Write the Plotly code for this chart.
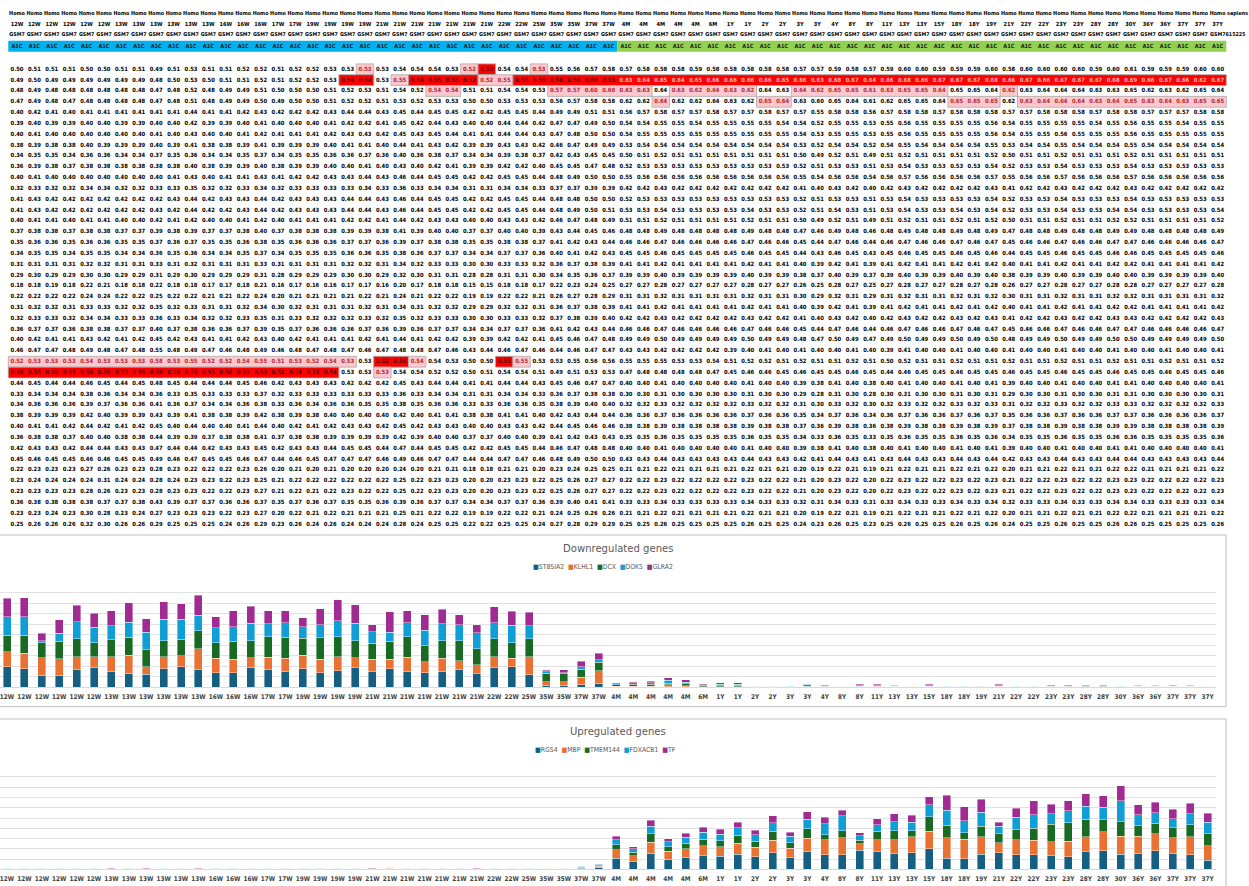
import plotly.graph_objects as go

FIG_W, FIG_H = 1249, 886
NARROW = "Liberation Sans Narrow, Arial Narrow, DejaVu Sans Condensed, Liberation Sans, Arial"

# ---------------- sample annotation ----------------
ages = ["12W", "12W", "12W", "12W", "12W", "12W", "13W", "13W", "13W", "13W",
        "13W", "13W", "16W", "16W", "16W", "17W", "17W", "19W", "19W", "19W",
        "19W", "21W", "21W", "21W", "21W", "21W", "21W", "21W", "22W", "22W",
        "25W", "35W", "35W", "37W", "37W", "4M", "4M", "4M", "4M", "4M",
        "6M", "1Y", "1Y", "2Y", "2Y", "3Y", "3Y", "4Y", "8Y", "8Y",
        "11Y", "13Y", "13Y", "15Y", "18Y", "18Y", "19Y", "21Y", "22Y", "22Y",
        "23Y", "23Y", "28Y", "28Y", "30Y", "36Y", "36Y", "37Y", "37Y", "37Y"]
n_prenatal = 35

# ---------------- expression table (rows = genes) ----------------
# columns 0-17 (12W-19W)
fetal_early = [
    "0.50 0.51 0.51 0.51 0.50 0.50 0.51 0.51 0.49 0.51 0.53 0.51 0.51 0.52 0.52 0.51 0.52 0.52",
    "0.49 0.50 0.49 0.49 0.49 0.49 0.49 0.49 0.48 0.50 0.53 0.50 0.51 0.51 0.52 0.51 0.52 0.52",
    "0.48 0.49 0.48 0.48 0.48 0.48 0.48 0.48 0.47 0.48 0.52 0.48 0.49 0.49 0.51 0.50 0.50 0.50",
    "0.47 0.49 0.48 0.47 0.48 0.48 0.48 0.48 0.47 0.48 0.51 0.48 0.49 0.49 0.50 0.49 0.50 0.50",
    "0.40 0.42 0.41 0.40 0.41 0.41 0.41 0.41 0.41 0.41 0.44 0.41 0.41 0.42 0.43 0.42 0.42 0.42",
    "0.39 0.40 0.39 0.39 0.40 0.40 0.39 0.39 0.40 0.40 0.42 0.39 0.39 0.40 0.41 0.40 0.40 0.40",
    "0.40 0.41 0.40 0.40 0.40 0.40 0.40 0.40 0.41 0.40 0.43 0.40 0.40 0.41 0.42 0.41 0.41 0.41",
    "0.38 0.39 0.38 0.38 0.40 0.39 0.39 0.39 0.40 0.39 0.41 0.38 0.38 0.39 0.41 0.39 0.39 0.39",
    "0.34 0.35 0.35 0.34 0.36 0.36 0.34 0.34 0.37 0.35 0.36 0.34 0.34 0.35 0.37 0.34 0.35 0.35",
    "0.36 0.39 0.38 0.37 0.38 0.38 0.38 0.38 0.38 0.38 0.40 0.38 0.39 0.39 0.40 0.38 0.39 0.39",
    "0.40 0.41 0.40 0.40 0.40 0.40 0.40 0.40 0.40 0.41 0.43 0.40 0.41 0.41 0.43 0.41 0.42 0.42",
    "0.32 0.33 0.32 0.32 0.34 0.34 0.32 0.32 0.33 0.33 0.35 0.32 0.32 0.33 0.34 0.32 0.33 0.33",
    "0.41 0.43 0.42 0.42 0.42 0.42 0.42 0.42 0.42 0.43 0.44 0.42 0.43 0.43 0.44 0.42 0.43 0.43",
    "0.41 0.43 0.42 0.42 0.42 0.42 0.42 0.42 0.43 0.42 0.44 0.42 0.42 0.43 0.44 0.42 0.43 0.43",
    "0.40 0.41 0.41 0.40 0.41 0.41 0.40 0.40 0.42 0.41 0.42 0.40 0.40 0.41 0.42 0.40 0.41 0.41",
    "0.37 0.38 0.38 0.37 0.38 0.38 0.37 0.37 0.39 0.38 0.39 0.37 0.37 0.38 0.40 0.37 0.38 0.38",
    "0.35 0.36 0.36 0.35 0.36 0.36 0.35 0.35 0.37 0.36 0.37 0.35 0.35 0.36 0.38 0.35 0.36 0.36",
    "0.34 0.35 0.35 0.34 0.35 0.35 0.34 0.34 0.36 0.35 0.36 0.34 0.34 0.35 0.37 0.34 0.35 0.35",
    "0.31 0.31 0.31 0.31 0.32 0.32 0.31 0.31 0.33 0.31 0.32 0.31 0.31 0.31 0.33 0.31 0.31 0.31",
    "0.29 0.30 0.29 0.29 0.30 0.30 0.29 0.29 0.31 0.29 0.30 0.29 0.29 0.29 0.31 0.28 0.29 0.29",
    "0.18 0.18 0.19 0.18 0.22 0.21 0.18 0.18 0.22 0.18 0.18 0.17 0.17 0.18 0.21 0.16 0.17 0.16",
    "0.22 0.22 0.22 0.22 0.24 0.24 0.22 0.22 0.25 0.22 0.22 0.21 0.21 0.22 0.24 0.20 0.21 0.21",
    "0.31 0.32 0.32 0.31 0.33 0.33 0.32 0.32 0.35 0.32 0.33 0.31 0.31 0.32 0.34 0.30 0.32 0.31",
    "0.32 0.33 0.33 0.32 0.34 0.34 0.33 0.33 0.36 0.33 0.34 0.32 0.32 0.33 0.35 0.31 0.33 0.32",
    "0.36 0.37 0.37 0.36 0.38 0.38 0.37 0.37 0.40 0.37 0.38 0.36 0.36 0.37 0.39 0.35 0.37 0.36",
    "0.40 0.42 0.41 0.41 0.43 0.42 0.41 0.42 0.45 0.42 0.43 0.41 0.41 0.42 0.43 0.40 0.42 0.41",
    "0.46 0.47 0.47 0.48 0.49 0.48 0.47 0.48 0.55 0.48 0.49 0.47 0.46 0.48 0.49 0.46 0.48 0.47",
    "0.52 0.53 0.53 0.53 0.54 0.53 0.53 0.53 0.58 0.53 0.55 0.52 0.52 0.54 0.55 0.51 0.53 0.52",
    "0.54 0.55 0.55 0.55 0.56 0.55 0.55 0.55 0.59 0.56 0.55 0.55 0.54 0.55 0.55 0.52 0.54 0.53",
    "0.44 0.45 0.44 0.44 0.46 0.45 0.44 0.45 0.48 0.45 0.44 0.44 0.44 0.45 0.46 0.42 0.43 0.43",
    "0.33 0.34 0.34 0.34 0.38 0.36 0.34 0.34 0.36 0.33 0.35 0.33 0.33 0.33 0.37 0.32 0.33 0.33",
    "0.34 0.36 0.36 0.36 0.39 0.37 0.36 0.36 0.41 0.36 0.37 0.34 0.34 0.36 0.38 0.33 0.36 0.34",
    "0.38 0.39 0.39 0.39 0.42 0.40 0.39 0.39 0.43 0.39 0.41 0.38 0.38 0.39 0.42 0.38 0.39 0.38",
    "0.40 0.41 0.41 0.42 0.44 0.42 0.41 0.42 0.45 0.40 0.44 0.40 0.40 0.41 0.44 0.40 0.42 0.41",
    "0.36 0.38 0.38 0.37 0.40 0.40 0.38 0.38 0.44 0.39 0.39 0.37 0.38 0.38 0.41 0.37 0.38 0.38",
    "0.42 0.43 0.43 0.42 0.44 0.44 0.43 0.43 0.47 0.44 0.44 0.42 0.43 0.43 0.45 0.42 0.43 0.43",
    "0.45 0.46 0.45 0.45 0.46 0.46 0.45 0.45 0.49 0.46 0.47 0.45 0.45 0.46 0.47 0.44 0.46 0.45",
    "0.22 0.23 0.23 0.23 0.27 0.26 0.23 0.23 0.28 0.23 0.22 0.22 0.22 0.23 0.26 0.20 0.21 0.20",
    "0.23 0.24 0.24 0.24 0.24 0.31 0.24 0.24 0.28 0.24 0.23 0.23 0.22 0.23 0.25 0.21 0.22 0.22",
    "0.23 0.23 0.23 0.23 0.28 0.26 0.23 0.23 0.28 0.23 0.23 0.22 0.22 0.23 0.27 0.21 0.22 0.21",
    "0.36 0.38 0.38 0.38 0.38 0.37 0.37 0.38 0.43 0.39 0.37 0.37 0.36 0.36 0.37 0.35 0.37 0.36",
    "0.23 0.23 0.24 0.23 0.30 0.28 0.23 0.24 0.27 0.23 0.23 0.23 0.22 0.23 0.27 0.20 0.22 0.21",
    "0.25 0.26 0.26 0.26 0.32 0.30 0.26 0.26 0.29 0.25 0.25 0.25 0.24 0.26 0.29 0.23 0.26 0.24",
]

# columns 18-34 (19W-37W)
fetal_late = [
    "0.53 0.53 0.53 0.53 0.54 0.54 0.54 0.53 0.52 0.53 0.54 0.54 0.53 0.55 0.56 0.57 0.58",
    "0.53 0.54 0.54 0.53 0.55 0.54 0.55 0.55 0.52 0.52 0.55 0.55 0.55 0.56 0.56 0.60 0.55",
    "0.51 0.52 0.53 0.51 0.54 0.52 0.54 0.54 0.51 0.51 0.54 0.54 0.53 0.57 0.57 0.60 0.60",
    "0.51 0.52 0.52 0.51 0.53 0.52 0.53 0.53 0.50 0.50 0.53 0.53 0.53 0.56 0.57 0.58 0.58",
    "0.43 0.44 0.44 0.43 0.45 0.44 0.45 0.45 0.42 0.42 0.45 0.45 0.44 0.49 0.49 0.51 0.51",
    "0.41 0.42 0.42 0.41 0.45 0.42 0.44 0.43 0.40 0.40 0.44 0.44 0.42 0.47 0.47 0.49 0.50",
    "0.42 0.43 0.43 0.42 0.45 0.43 0.45 0.44 0.41 0.41 0.44 0.44 0.43 0.47 0.48 0.50 0.50",
    "0.40 0.41 0.41 0.40 0.44 0.41 0.43 0.42 0.39 0.39 0.43 0.43 0.42 0.46 0.47 0.49 0.49",
    "0.36 0.36 0.37 0.36 0.40 0.36 0.38 0.37 0.34 0.34 0.39 0.38 0.37 0.42 0.43 0.45 0.45",
    "0.40 0.40 0.41 0.40 0.43 0.40 0.42 0.41 0.39 0.39 0.42 0.42 0.40 0.45 0.45 0.47 0.48",
    "0.43 0.43 0.44 0.43 0.46 0.44 0.45 0.45 0.42 0.42 0.45 0.45 0.44 0.48 0.49 0.50 0.50",
    "0.33 0.33 0.34 0.33 0.36 0.33 0.34 0.34 0.31 0.31 0.34 0.34 0.33 0.37 0.37 0.39 0.39",
    "0.43 0.44 0.44 0.43 0.46 0.44 0.45 0.45 0.42 0.42 0.45 0.45 0.44 0.48 0.48 0.50 0.50",
    "0.43 0.44 0.44 0.43 0.46 0.44 0.45 0.45 0.42 0.42 0.45 0.45 0.44 0.48 0.49 0.50 0.51",
    "0.41 0.42 0.42 0.41 0.44 0.42 0.43 0.43 0.40 0.40 0.43 0.43 0.42 0.46 0.47 0.48 0.49",
    "0.38 0.39 0.39 0.38 0.41 0.39 0.40 0.40 0.37 0.37 0.40 0.40 0.39 0.43 0.44 0.45 0.46",
    "0.36 0.37 0.37 0.36 0.39 0.37 0.38 0.38 0.35 0.35 0.38 0.38 0.37 0.41 0.42 0.43 0.44",
    "0.35 0.36 0.36 0.35 0.38 0.36 0.37 0.37 0.34 0.34 0.37 0.37 0.36 0.40 0.41 0.42 0.43",
    "0.31 0.32 0.32 0.31 0.34 0.32 0.33 0.33 0.30 0.30 0.33 0.33 0.32 0.36 0.37 0.38 0.39",
    "0.29 0.30 0.30 0.29 0.32 0.30 0.31 0.31 0.28 0.28 0.31 0.31 0.30 0.34 0.35 0.36 0.37",
    "0.16 0.17 0.17 0.16 0.20 0.17 0.18 0.18 0.15 0.15 0.18 0.18 0.17 0.22 0.23 0.24 0.25",
    "0.21 0.21 0.22 0.21 0.24 0.21 0.22 0.22 0.19 0.19 0.22 0.22 0.21 0.26 0.27 0.28 0.29",
    "0.31 0.31 0.32 0.31 0.34 0.31 0.32 0.32 0.29 0.29 0.32 0.32 0.31 0.36 0.37 0.38 0.39",
    "0.32 0.32 0.33 0.32 0.35 0.32 0.33 0.33 0.30 0.30 0.33 0.33 0.32 0.37 0.38 0.39 0.40",
    "0.36 0.36 0.37 0.36 0.39 0.36 0.37 0.37 0.34 0.34 0.37 0.37 0.36 0.41 0.42 0.43 0.44",
    "0.41 0.41 0.42 0.41 0.44 0.41 0.42 0.42 0.39 0.39 0.42 0.42 0.41 0.45 0.46 0.47 0.48",
    "0.48 0.47 0.46 0.47 0.48 0.48 0.47 0.46 0.43 0.44 0.46 0.47 0.46 0.44 0.46 0.47 0.47",
    "0.54 0.53 0.53 0.52 0.55 0.54 0.54 0.53 0.50 0.50 0.55 0.55 0.53 0.53 0.55 0.56 0.56",
    "0.54 0.53 0.53 0.53 0.54 0.54 0.52 0.52 0.50 0.51 0.54 0.54 0.51 0.49 0.51 0.53 0.53",
    "0.43 0.42 0.42 0.42 0.45 0.43 0.44 0.44 0.41 0.41 0.44 0.44 0.43 0.45 0.46 0.47 0.47",
    "0.33 0.33 0.33 0.33 0.36 0.33 0.34 0.34 0.31 0.31 0.34 0.34 0.33 0.36 0.37 0.38 0.38",
    "0.36 0.36 0.35 0.35 0.38 0.35 0.36 0.36 0.33 0.33 0.36 0.36 0.35 0.38 0.39 0.40 0.40",
    "0.40 0.40 0.40 0.40 0.42 0.40 0.41 0.41 0.38 0.38 0.41 0.41 0.40 0.42 0.43 0.44 0.44",
    "0.42 0.43 0.43 0.42 0.45 0.42 0.43 0.43 0.40 0.40 0.43 0.43 0.42 0.44 0.45 0.46 0.46",
    "0.39 0.39 0.39 0.39 0.42 0.39 0.40 0.40 0.37 0.37 0.40 0.40 0.39 0.41 0.42 0.43 0.43",
    "0.44 0.45 0.45 0.44 0.47 0.44 0.45 0.45 0.42 0.42 0.45 0.45 0.44 0.46 0.47 0.48 0.48",
    "0.47 0.47 0.47 0.46 0.49 0.46 0.47 0.47 0.44 0.44 0.47 0.47 0.46 0.48 0.49 0.50 0.50",
    "0.21 0.20 0.20 0.20 0.24 0.20 0.21 0.21 0.18 0.18 0.21 0.21 0.20 0.23 0.24 0.25 0.25",
    "0.22 0.22 0.22 0.22 0.25 0.22 0.23 0.23 0.20 0.20 0.23 0.23 0.22 0.25 0.26 0.27 0.27",
    "0.22 0.23 0.22 0.22 0.25 0.22 0.23 0.23 0.20 0.20 0.23 0.23 0.22 0.25 0.26 0.27 0.27",
    "0.37 0.35 0.35 0.36 0.39 0.36 0.37 0.37 0.34 0.34 0.37 0.37 0.36 0.39 0.40 0.41 0.41",
    "0.22 0.21 0.21 0.21 0.25 0.21 0.22 0.22 0.19 0.19 0.22 0.22 0.21 0.24 0.25 0.26 0.26",
    "0.26 0.24 0.24 0.24 0.28 0.24 0.25 0.25 0.22 0.22 0.25 0.25 0.24 0.27 0.28 0.29 0.29",
]

# columns 35-69 (4M-37Y)
postnatal = [
    "0.57 0.58 0.58 0.58 0.59 0.58 0.58 0.58 0.58 0.58 0.57 0.57 0.59 0.58 0.57 0.59 0.60 0.60 0.59 0.59 0.59 0.60 0.58 0.60 0.60 0.60 0.60 0.59 0.60 0.61 0.59 0.59 0.59 0.60 0.60",
    "0.63 0.64 0.65 0.64 0.65 0.66 0.66 0.66 0.66 0.65 0.66 0.63 0.68 0.67 0.64 0.66 0.68 0.66 0.67 0.67 0.67 0.68 0.66 0.67 0.66 0.67 0.67 0.67 0.68 0.69 0.66 0.67 0.66 0.62 0.67",
    "0.63 0.63 0.64 0.63 0.62 0.64 0.63 0.62 0.64 0.63 0.64 0.62 0.65 0.65 0.61 0.63 0.65 0.65 0.64 0.65 0.65 0.64 0.62 0.63 0.64 0.64 0.64 0.63 0.63 0.65 0.62 0.63 0.62 0.65 0.64",
    "0.62 0.62 0.64 0.62 0.62 0.64 0.63 0.62 0.65 0.64 0.63 0.60 0.65 0.64 0.61 0.62 0.65 0.65 0.64 0.65 0.65 0.65 0.62 0.63 0.64 0.64 0.64 0.63 0.64 0.65 0.63 0.64 0.63 0.65 0.65",
    "0.56 0.57 0.58 0.57 0.57 0.58 0.57 0.57 0.58 0.57 0.57 0.55 0.58 0.58 0.56 0.57 0.58 0.58 0.57 0.58 0.58 0.58 0.57 0.57 0.58 0.58 0.58 0.57 0.58 0.58 0.57 0.57 0.57 0.58 0.58",
    "0.54 0.54 0.55 0.55 0.54 0.55 0.55 0.55 0.55 0.54 0.54 0.52 0.55 0.55 0.53 0.55 0.56 0.55 0.55 0.55 0.55 0.56 0.54 0.55 0.55 0.55 0.55 0.54 0.55 0.56 0.55 0.55 0.54 0.55 0.55",
    "0.54 0.55 0.55 0.55 0.55 0.55 0.55 0.55 0.55 0.55 0.54 0.53 0.55 0.55 0.53 0.55 0.56 0.55 0.55 0.55 0.55 0.56 0.54 0.55 0.55 0.56 0.55 0.55 0.55 0.56 0.55 0.55 0.55 0.55 0.55",
    "0.53 0.54 0.54 0.54 0.54 0.54 0.54 0.54 0.54 0.54 0.53 0.52 0.54 0.54 0.52 0.54 0.55 0.54 0.54 0.54 0.54 0.55 0.53 0.54 0.54 0.55 0.54 0.54 0.54 0.55 0.54 0.54 0.54 0.54 0.54",
    "0.50 0.51 0.52 0.51 0.51 0.51 0.51 0.51 0.51 0.51 0.50 0.49 0.52 0.51 0.49 0.51 0.52 0.51 0.51 0.51 0.51 0.52 0.50 0.51 0.51 0.52 0.51 0.51 0.51 0.52 0.51 0.51 0.51 0.51 0.51",
    "0.52 0.53 0.53 0.53 0.53 0.53 0.53 0.53 0.53 0.53 0.52 0.51 0.53 0.53 0.51 0.53 0.54 0.53 0.53 0.53 0.53 0.54 0.52 0.53 0.53 0.54 0.53 0.53 0.53 0.54 0.53 0.53 0.53 0.53 0.53",
    "0.55 0.56 0.56 0.56 0.56 0.56 0.56 0.56 0.56 0.56 0.55 0.54 0.56 0.56 0.54 0.56 0.57 0.56 0.56 0.56 0.56 0.57 0.55 0.56 0.56 0.57 0.56 0.56 0.56 0.57 0.56 0.56 0.56 0.56 0.56",
    "0.42 0.42 0.43 0.42 0.42 0.42 0.42 0.42 0.42 0.42 0.41 0.40 0.43 0.42 0.40 0.42 0.43 0.42 0.42 0.42 0.42 0.43 0.41 0.42 0.42 0.43 0.42 0.42 0.42 0.43 0.42 0.42 0.42 0.42 0.42",
    "0.52 0.53 0.53 0.53 0.53 0.53 0.53 0.53 0.53 0.53 0.52 0.51 0.53 0.53 0.51 0.53 0.54 0.53 0.53 0.53 0.53 0.54 0.52 0.53 0.53 0.54 0.53 0.53 0.53 0.54 0.53 0.53 0.53 0.53 0.53",
    "0.53 0.53 0.54 0.53 0.53 0.53 0.53 0.54 0.53 0.53 0.52 0.51 0.54 0.53 0.51 0.53 0.54 0.53 0.53 0.54 0.53 0.54 0.52 0.53 0.53 0.54 0.53 0.53 0.54 0.54 0.53 0.53 0.53 0.53 0.54",
    "0.51 0.51 0.52 0.51 0.51 0.51 0.51 0.52 0.51 0.51 0.50 0.49 0.52 0.51 0.49 0.51 0.52 0.51 0.51 0.52 0.51 0.52 0.50 0.51 0.51 0.52 0.51 0.51 0.52 0.52 0.51 0.51 0.51 0.51 0.52",
    "0.48 0.48 0.49 0.48 0.48 0.48 0.48 0.49 0.48 0.48 0.47 0.46 0.49 0.48 0.46 0.48 0.49 0.48 0.48 0.49 0.48 0.49 0.47 0.48 0.48 0.49 0.48 0.48 0.49 0.49 0.48 0.48 0.48 0.48 0.49",
    "0.46 0.46 0.47 0.46 0.46 0.46 0.46 0.47 0.46 0.46 0.45 0.44 0.47 0.46 0.44 0.46 0.47 0.46 0.46 0.47 0.46 0.47 0.45 0.46 0.46 0.47 0.46 0.46 0.47 0.47 0.46 0.46 0.46 0.46 0.47",
    "0.45 0.45 0.46 0.45 0.45 0.45 0.45 0.46 0.45 0.45 0.44 0.43 0.46 0.45 0.43 0.45 0.46 0.45 0.45 0.46 0.45 0.46 0.44 0.45 0.45 0.46 0.45 0.45 0.46 0.46 0.45 0.45 0.45 0.45 0.46",
    "0.41 0.41 0.42 0.41 0.41 0.41 0.41 0.42 0.41 0.41 0.40 0.39 0.42 0.41 0.39 0.41 0.42 0.41 0.41 0.42 0.41 0.42 0.40 0.41 0.41 0.42 0.41 0.41 0.42 0.42 0.41 0.41 0.41 0.41 0.42",
    "0.39 0.39 0.40 0.39 0.39 0.39 0.39 0.40 0.39 0.39 0.38 0.37 0.40 0.39 0.37 0.39 0.40 0.39 0.39 0.40 0.39 0.40 0.38 0.39 0.39 0.40 0.39 0.39 0.40 0.40 0.39 0.39 0.39 0.39 0.40",
    "0.27 0.27 0.28 0.27 0.27 0.27 0.27 0.28 0.27 0.27 0.26 0.25 0.28 0.27 0.25 0.27 0.28 0.27 0.27 0.28 0.27 0.28 0.26 0.27 0.27 0.28 0.27 0.27 0.28 0.28 0.27 0.27 0.27 0.27 0.28",
    "0.31 0.31 0.32 0.31 0.31 0.31 0.31 0.32 0.31 0.31 0.30 0.29 0.32 0.31 0.29 0.31 0.32 0.31 0.31 0.32 0.31 0.32 0.30 0.31 0.31 0.32 0.31 0.31 0.32 0.32 0.31 0.31 0.31 0.31 0.32",
    "0.41 0.41 0.42 0.41 0.41 0.41 0.41 0.42 0.41 0.41 0.40 0.39 0.42 0.41 0.39 0.41 0.42 0.41 0.41 0.42 0.41 0.42 0.40 0.41 0.41 0.42 0.41 0.41 0.42 0.42 0.41 0.41 0.41 0.41 0.42",
    "0.42 0.42 0.43 0.42 0.42 0.42 0.42 0.43 0.42 0.42 0.41 0.40 0.43 0.42 0.40 0.42 0.43 0.42 0.42 0.43 0.42 0.43 0.41 0.42 0.42 0.43 0.42 0.42 0.43 0.43 0.42 0.42 0.42 0.42 0.43",
    "0.46 0.46 0.47 0.46 0.46 0.46 0.46 0.47 0.46 0.46 0.45 0.44 0.47 0.46 0.44 0.46 0.47 0.46 0.46 0.47 0.46 0.47 0.45 0.46 0.46 0.47 0.46 0.46 0.47 0.47 0.46 0.46 0.46 0.46 0.47",
    "0.49 0.49 0.50 0.49 0.49 0.49 0.49 0.50 0.49 0.49 0.48 0.47 0.50 0.49 0.47 0.49 0.50 0.49 0.49 0.50 0.49 0.50 0.48 0.49 0.49 0.50 0.49 0.49 0.50 0.50 0.49 0.49 0.49 0.49 0.50",
    "0.43 0.43 0.42 0.42 0.42 0.42 0.39 0.40 0.41 0.40 0.41 0.40 0.40 0.41 0.40 0.39 0.41 0.40 0.40 0.41 0.40 0.40 0.41 0.40 0.40 0.41 0.40 0.40 0.41 0.40 0.40 0.41 0.40 0.40 0.41",
    "0.55 0.55 0.55 0.53 0.53 0.54 0.51 0.52 0.52 0.51 0.52 0.51 0.51 0.52 0.51 0.50 0.52 0.51 0.51 0.52 0.51 0.51 0.52 0.51 0.51 0.52 0.51 0.51 0.52 0.51 0.51 0.52 0.51 0.51 0.52",
    "0.47 0.48 0.48 0.48 0.48 0.47 0.45 0.46 0.46 0.45 0.46 0.45 0.45 0.46 0.45 0.44 0.46 0.45 0.45 0.46 0.45 0.45 0.46 0.45 0.45 0.46 0.45 0.45 0.46 0.45 0.45 0.46 0.45 0.45 0.46",
    "0.40 0.40 0.41 0.40 0.40 0.40 0.40 0.41 0.40 0.40 0.39 0.38 0.41 0.40 0.38 0.40 0.41 0.40 0.40 0.41 0.40 0.41 0.39 0.40 0.40 0.41 0.40 0.40 0.41 0.41 0.40 0.40 0.40 0.40 0.41",
    "0.30 0.30 0.31 0.30 0.30 0.30 0.30 0.31 0.30 0.30 0.29 0.28 0.31 0.30 0.28 0.30 0.31 0.30 0.30 0.31 0.30 0.31 0.29 0.30 0.30 0.31 0.30 0.30 0.31 0.31 0.30 0.30 0.30 0.30 0.31",
    "0.32 0.32 0.33 0.32 0.32 0.32 0.32 0.33 0.32 0.32 0.31 0.30 0.33 0.32 0.30 0.32 0.33 0.32 0.32 0.33 0.32 0.33 0.31 0.32 0.32 0.33 0.32 0.32 0.33 0.33 0.32 0.32 0.32 0.32 0.33",
    "0.36 0.36 0.37 0.36 0.36 0.36 0.36 0.37 0.36 0.36 0.35 0.34 0.37 0.36 0.34 0.36 0.37 0.36 0.36 0.37 0.36 0.37 0.35 0.36 0.36 0.37 0.36 0.36 0.37 0.37 0.36 0.36 0.36 0.36 0.37",
    "0.38 0.38 0.39 0.38 0.38 0.38 0.38 0.39 0.38 0.38 0.37 0.36 0.39 0.38 0.36 0.38 0.39 0.38 0.38 0.39 0.38 0.39 0.37 0.38 0.38 0.39 0.38 0.38 0.39 0.39 0.38 0.38 0.38 0.38 0.39",
    "0.35 0.35 0.36 0.35 0.35 0.35 0.35 0.36 0.35 0.35 0.34 0.33 0.36 0.35 0.33 0.35 0.36 0.35 0.35 0.36 0.35 0.36 0.34 0.35 0.35 0.36 0.35 0.35 0.36 0.36 0.35 0.35 0.35 0.35 0.36",
    "0.40 0.40 0.41 0.40 0.40 0.40 0.40 0.41 0.40 0.40 0.39 0.38 0.41 0.40 0.38 0.40 0.41 0.40 0.40 0.41 0.40 0.41 0.39 0.40 0.40 0.41 0.40 0.40 0.41 0.41 0.40 0.40 0.40 0.40 0.41",
    "0.43 0.43 0.44 0.43 0.43 0.43 0.43 0.44 0.43 0.43 0.42 0.41 0.44 0.43 0.41 0.43 0.44 0.43 0.43 0.44 0.43 0.44 0.42 0.43 0.43 0.44 0.43 0.43 0.44 0.44 0.43 0.43 0.43 0.43 0.44",
    "0.21 0.21 0.22 0.21 0.21 0.21 0.21 0.22 0.21 0.21 0.20 0.19 0.22 0.21 0.19 0.21 0.22 0.21 0.21 0.22 0.21 0.22 0.20 0.21 0.21 0.22 0.21 0.21 0.22 0.22 0.21 0.21 0.21 0.21 0.22",
    "0.22 0.22 0.23 0.22 0.22 0.22 0.22 0.23 0.22 0.22 0.21 0.20 0.23 0.22 0.20 0.22 0.23 0.22 0.22 0.23 0.22 0.23 0.21 0.22 0.22 0.23 0.22 0.22 0.23 0.23 0.22 0.22 0.22 0.22 0.23",
    "0.22 0.22 0.23 0.22 0.22 0.22 0.22 0.23 0.22 0.22 0.21 0.20 0.23 0.22 0.20 0.22 0.23 0.22 0.22 0.23 0.22 0.23 0.21 0.22 0.22 0.23 0.22 0.22 0.23 0.23 0.22 0.22 0.22 0.22 0.23",
    "0.33 0.33 0.34 0.33 0.33 0.33 0.33 0.34 0.33 0.33 0.32 0.31 0.34 0.33 0.31 0.33 0.34 0.33 0.33 0.34 0.33 0.34 0.32 0.33 0.33 0.34 0.33 0.33 0.34 0.34 0.33 0.33 0.33 0.33 0.34",
    "0.21 0.21 0.22 0.21 0.21 0.21 0.21 0.22 0.21 0.21 0.20 0.19 0.22 0.21 0.19 0.21 0.22 0.21 0.21 0.22 0.21 0.22 0.20 0.21 0.21 0.22 0.21 0.21 0.22 0.22 0.21 0.21 0.21 0.21 0.22",
    "0.25 0.25 0.26 0.25 0.25 0.25 0.25 0.26 0.25 0.25 0.24 0.23 0.26 0.25 0.23 0.25 0.26 0.25 0.25 0.26 0.25 0.26 0.24 0.25 0.25 0.26 0.25 0.25 0.26 0.26 0.25 0.25 0.25 0.25 0.26",
]

# conditional-format highlights: row -> columns
pink_cells = {
    0: [20, 26, 30],
    1: [22, 27, 28],
    2: [24, 25, 31, 32, 33, 34, 35, 36, 38, 39, 40, 41, 42,
        45, 46, 47, 48, 49, 50, 51, 52, 53, 57],
    3: [37, 43, 44, 54, 55, 56] + list(range(58, 70)),
    27: list(range(0, 20)) + [23, 29],
    28: [21],
}
red_cells = {
    0: [27],
    1: [19, 20, 23, 24, 25, 26] + list(range(29, 70)),
    27: [21, 22, 28],
    28: list(range(0, 19)),
}

# ---------------- stacked bar series ----------------
down_genes = ["ST8SIA2", "KLHL1", "DCX", "DOK5", "GLRA2"]
down_st8sia2 = [1.97, 1.78, 1.14, 1.14, 1.65, 1.84, 1.46, 1.33, 1.24, 1.75,
                1.97, 1.68, 1.40, 1.40, 1.84, 1.65, 1.49, 1.78, 1.40, 1.59,
                1.87, 1.49, 1.78, 1.49, 1.37, 1.52, 1.68, 1.27, 1.84, 1.97,
                1.21, 0.19, 0.19, 0.25, 0.35, 0.03, 0.03, 0.03, 0.04, 0.03,
                0.02, 0.02, 0.02, 0.02, 0.02, 0.02, 0.03, 0.10, 0.06, 0.08,
                0.06, 0.08, 0.07, 0.08, 0.03, 0.03, 0.05, 0.06, 0.03, 0.03,
                0.10, 0.10, 0.05, 0.05, 0.03, 0.08, 0.08, 0.08, 0.08, 0.04]
down_klhl1 = [1.43, 1.46, 1.68, 1.59, 1.27, 1.08, 1.46, 1.71, 0.70, 1.17,
              1.02, 2.00, 1.37, 1.27, 0.98, 1.21, 1.27, 1.27, 1.27, 1.33,
              0.95, 1.17, 0.89, 1.37, 1.05, 1.24, 0.83, 0.86, 1.05, 0.79,
              1.71, 0.35, 0.35, 0.73, 1.21, 0.06, 0.06, 0.08, 0.18, 0.10,
              0.05, 0.05, 0.04, 0.03, 0.03, 0.02, 0.03, 0.02, 0.02, 0.02,
              0.02, 0.02, 0.01, 0.02, 0.01, 0.01, 0.01, 0.02, 0.01, 0.01,
              0.02, 0.02, 0.02, 0.02, 0.01, 0.02, 0.02, 0.02, 0.02, 0.02]
down_dcx = [1.56, 1.71, 1.43, 1.65, 1.71, 1.33, 1.59, 1.71, 1.62, 1.52,
            1.59, 1.71, 1.49, 1.71, 1.59, 1.94, 2.00, 1.62, 2.03, 1.87,
            1.59, 1.52, 1.71, 1.97, 1.56, 1.68, 1.94, 1.56, 1.75, 1.49,
            1.71, 0.79, 0.73, 0.73, 0.83, 0.13, 0.20, 0.20, 0.18, 0.20,
            0.13, 0.10, 0.12, 0.03, 0.03, 0.03, 0.04, 0.03, 0.02, 0.03,
            0.05, 0.02, 0.02, 0.03, 0.02, 0.02, 0.02, 0.05, 0.02, 0.02,
            0.02, 0.02, 0.02, 0.02, 0.02, 0.02, 0.02, 0.02, 0.02, 0.02]
down_dok5 = [1.78, 1.78, 0.16, 0.76, 1.62, 1.49, 1.37, 1.46, 1.68, 2.03,
             1.90, 1.49, 1.43, 1.40, 1.68, 1.27, 1.37, 1.08, 1.27, 1.56,
             1.68, 1.11, 0.86, 1.30, 1.43, 1.62, 1.49, 1.49, 1.52, 1.68,
             1.21, 0.13, 0.13, 0.25, 0.22, 0.13, 0.12, 0.12, 0.26, 0.15,
             0.04, 0.14, 0.10, 0.04, 0.04, 0.03, 0.18, 0.08, 0.04, 0.10,
             0.10, 0.08, 0.04, 0.12, 0.02, 0.02, 0.04, 0.12, 0.02, 0.02,
             0.08, 0.08, 0.04, 0.04, 0.02, 0.08, 0.08, 0.05, 0.08, 0.03]
down_glra2 = [1.75, 1.81, 0.73, 1.27, 1.56, 1.30, 1.43, 1.84, 1.27, 1.68,
              1.49, 1.87, 1.02, 1.52, 1.65, 1.24, 1.17, 0.86, 1.49, 2.00,
              1.78, 0.67, 1.94, 1.17, 1.49, 1.37, 0.95, 0.79, 1.52, 1.33,
              1.30, 0.16, 0.29, 0.51, 0.63, 0.10, 0.10, 0.14, 0.26, 0.22,
              0.08, 0.10, 0.13, 0.04, 0.04, 0.03, 0.04, 0.02, 0.02, 0.12,
              0.12, 0.05, 0.02, 0.07, 0.02, 0.02, 0.04, 0.10, 0.02, 0.02,
              0.03, 0.03, 0.06, 0.06, 0.02, 0.02, 0.02, 0.02, 0.02, 0.02]

up_genes = ["RGS4", "MBP", "TMEM144", "FDXACB1", "TF"]
up_rgs4 = [0.03, 0.03, 0.02, 0.03, 0.03, 0.03, 0.02, 0.03, 0.02, 0.02,
           0.03, 0.02, 0.02, 0.03, 0.03, 0.02, 0.03, 0.03, 0.02, 0.03,
           0.03, 0.02, 0.04, 0.02, 0.03, 0.03, 0.03, 0.02, 0.03, 0.03,
           0.02, 0.05, 0.05, 0.10, 0.18, 1.10, 0.75, 1.55, 1.00, 1.15,
           1.30, 1.25, 1.45, 1.20, 1.60, 1.15, 1.70, 1.40, 1.40, 1.85,
           1.69, 1.53, 1.62, 1.98, 1.07, 1.01, 1.49, 1.62, 1.40, 1.43,
           1.33, 1.23, 1.69, 1.82, 1.49, 1.53, 1.79, 1.53, 1.43, 0.88]
up_mbp = [0.02, 0.01, 0.02, 0.01, 0.01, 0.01, 0.02, 0.01, 0.02, 0.02,
          0.01, 0.01, 0.02, 0.01, 0.01, 0.02, 0.01, 0.01, 0.02, 0.01,
          0.01, 0.02, 0.08, 0.02, 0.01, 0.01, 0.02, 0.01, 0.01, 0.01,
          0.02, 0.03, 0.03, 0.06, 0.10, 0.80, 0.55, 1.10, 0.75, 0.85,
          1.00, 0.95, 1.10, 0.95, 1.25, 0.90, 1.35, 1.46, 1.69, 0.62,
          1.20, 1.36, 1.53, 1.72, 2.01, 1.92, 1.66, 0.97, 1.49, 1.40,
          1.36, 1.49, 1.49, 1.82, 1.75, 1.69, 1.69, 1.53, 1.72, 1.43]
up_tmem144 = [0.01, 0.01, 0.02, 0.01, 0.01, 0.01, 0.01, 0.01, 0.01, 0.02,
              0.01, 0.01, 0.02, 0.01, 0.01, 0.02, 0.01, 0.01, 0.02, 0.01,
              0.01, 0.01, 0.03, 0.02, 0.01, 0.01, 0.01, 0.01, 0.01, 0.01,
              0.01, 0.02, 0.02, 0.04, 0.06, 0.50, 0.35, 0.80, 0.45, 0.55,
              0.65, 0.60, 0.75, 0.60, 0.85, 0.55, 0.90, 0.49, 0.68, 0.36,
              0.81, 0.88, 0.62, 1.43, 1.20, 0.62, 1.07, 0.88, 0.97, 1.17,
              1.72, 1.82, 1.72, 1.20, 1.40, 1.01, 1.01, 0.97, 1.17, 1.14]
up_fdxacb1 = [0.02, 0.04, 0.02, 0.04, 0.04, 0.04, 0.02, 0.04, 0.02, 0.02,
              0.03, 0.02, 0.02, 0.04, 0.04, 0.02, 0.04, 0.04, 0.02, 0.04,
              0.04, 0.02, 0.03, 0.02, 0.04, 0.04, 0.03, 0.02, 0.04, 0.04,
              0.03, 0.03, 0.03, 0.08, 0.14, 0.50, 0.35, 0.75, 0.50, 0.55,
              0.65, 0.60, 0.75, 0.60, 0.85, 0.60, 0.95, 1.07, 1.43, 0.42,
              0.65, 0.88, 0.84, 1.17, 1.49, 1.17, 1.36, 0.71, 1.23, 1.33,
              1.01, 1.17, 1.23, 1.23, 2.05, 1.07, 1.04, 0.91, 1.10, 1.14]
up_tf = [0.03, 0.01, 0.02, 0.01, 0.01, 0.01, 0.03, 0.01, 0.03, 0.02,
         0.02, 0.04, 0.02, 0.01, 0.01, 0.02, 0.01, 0.01, 0.02, 0.01,
         0.01, 0.03, 0.03, 0.02, 0.01, 0.01, 0.02, 0.02, 0.01, 0.01,
         0.02, 0.02, 0.02, 0.03, 0.05, 0.30, 0.20, 0.60, 0.30, 0.40,
         0.50, 0.50, 0.55, 0.45, 0.65, 0.40, 0.70, 0.65, 0.58, 0.29,
         0.58, 0.78, 0.68, 0.75, 1.43, 1.36, 1.23, 0.39, 0.88, 1.33,
         0.91, 0.97, 1.23, 1.10, 1.43, 0.97, 1.01, 0.91, 1.01, 0.88]

series_colors = ["#156082", "#E97132", "#196B24", "#0F9ED5", "#A02B93"]

# ---------------- assemble table ----------------
def parse_block(block):
    return [[float(v) for v in row.split()] for row in block]

early, late, post = parse_block(fetal_early), parse_block(fetal_late), parse_block(postnatal)
table = [a + b + c for a, b, c in zip(early, late, post)]
n_cols = len(ages)
n_rows = len(table)
for k, row in enumerate(table):
    if len(row) != n_cols:
        raise ValueError(f"table row {k} has {len(row)} values")

# pixel geometry of the sheet
COL_X0, COL_W = 17.0, 17.4
ROW_Y0, ROW_H = 69.3, 10.83
col_x = [COL_X0 + COL_W * i for i in range(n_cols)]
row_y = [ROW_Y0 + ROW_H * k for k in range(n_rows)]
TABLE_BOTTOM = 530

fig = go.Figure()
shapes = []

# stage band (fetal / postnatal) under the "A1C" row
band_top, band_bot = 40.7, 51.7
left_edge = col_x[0] - COL_W / 2
split_edge = col_x[n_prenatal] - COL_W / 2
right_edge = col_x[-1] + COL_W / 2
for x0, x1, col in [(left_edge, split_edge, "#00B0F0"), (split_edge, right_edge, "#92D050")]:
    shapes.append(dict(type="rect", xref="x3", yref="y3", x0=x0, x1=x1, y0=band_top, y1=band_bot,
                       fillcolor=col, line=dict(width=0), layer="below"))

# highlighted cells, drawn as contiguous runs
cell_state = {}
for r, cols in pink_cells.items():
    for c in cols:
        cell_state[(r, c)] = "pink"
for r, cols in red_cells.items():
    for c in cols:
        cell_state[(r, c)] = "red"
fills = {"pink": "#FFC7CE", "red": "#FF0000"}
for r in range(n_rows):
    c = 0
    while c < n_cols:
        s = cell_state.get((r, c))
        if s is None:
            c += 1
            continue
        c1 = c
        while c1 + 1 < n_cols and cell_state.get((r, c1 + 1)) == s:
            c1 += 1
        shapes.append(dict(type="rect", xref="x3", yref="y3",
                           x0=col_x[c] - COL_W / 2, x1=col_x[c1] + COL_W / 2,
                           y0=row_y[r] - ROW_H / 2, y1=row_y[r] + ROW_H / 2,
                           fillcolor=fills[s], line=dict(color="#a9a9a9", width=0.8), layer="below"))
        c = c1 + 1

# cell values
xs, ys, labels, colors = [], [], [], []
for r, row in enumerate(table):
    for c, v in enumerate(row):
        xs.append(col_x[c])
        ys.append(row_y[r])
        labels.append(f"{v:.2f}")
        s = cell_state.get((r, c))
        if s == "pink":
            colors.append("#b3262f")
        elif s == "red":
            colors.append("#5e0000" if c < n_prenatal else "#ffb3b3")
        else:
            colors.append("#000000")
fig.add_trace(go.Scatter(x=xs, y=ys, text=labels, mode="text", xaxis="x3", yaxis="y3",
                         textfont=dict(family=NARROW, size=5.8, color=colors, weight="bold"),
                         hoverinfo="skip", cliponaxis=False, showlegend=False))

# header rows
head_font = dict(family=NARROW, size=5.4, color="#000000", weight="bold")
fig.add_trace(go.Scatter(x=col_x, y=[14] * n_cols, text=["Homo"] * n_cols, mode="text",
                         xaxis="x3", yaxis="y3", textfont=head_font, hoverinfo="skip",
                         cliponaxis=False, showlegend=False))
fig.add_trace(go.Scatter(x=[col_x[-1] + 9.5], y=[14], text=["sapiens"], mode="text",
                         textposition="middle right", xaxis="x3", yaxis="y3", textfont=head_font,
                         hoverinfo="skip", cliponaxis=False, showlegend=False))
fig.add_trace(go.Scatter(x=col_x, y=[24.3] * n_cols, text=ages, mode="text",
                         xaxis="x3", yaxis="y3",
                         textfont=dict(family=NARROW, size=5.6, color="#000000", weight="bold"),
                         hoverinfo="skip", cliponaxis=False, showlegend=False))
gsm_font = dict(family=NARROW, size=5.3, color="#000000", weight="bold")
fig.add_trace(go.Scatter(x=col_x[:-1], y=[34.3] * (n_cols - 1), text=["GSM7"] * (n_cols - 1),
                         mode="text", xaxis="x3", yaxis="y3", textfont=gsm_font,
                         hoverinfo="skip", cliponaxis=False, showlegend=False))
fig.add_trace(go.Scatter(x=[col_x[-1] - 7.5], y=[34.3], text=["GSM7615225"], mode="text",
                         textposition="middle right", xaxis="x3", yaxis="y3", textfont=gsm_font,
                         hoverinfo="skip", cliponaxis=False, showlegend=False))
fig.add_trace(go.Scatter(x=col_x, y=[46.2] * n_cols, text=["A1C"] * n_cols, mode="text",
                         xaxis="x3", yaxis="y3",
                         textfont=dict(family=NARROW, size=5.6, color="#1a1a1a", weight="bold"),
                         hoverinfo="skip", cliponaxis=False, showlegend=False))

# ---------------- stacked bar charts ----------------
idx = list(range(n_cols))
bar_line = dict(color="rgba(255,255,255,0.5)", width=0.8)
for vals, col, name in zip([down_st8sia2, down_klhl1, down_dcx, down_dok5, down_glra2],
                           series_colors, down_genes):
    fig.add_trace(go.Bar(x=idx, y=vals, name=name, marker=dict(color=col, line=bar_line),
                         width=0.46, xaxis="x", yaxis="y", showlegend=False))
for vals, col, name in zip([up_rgs4, up_mbp, up_tmem144, up_fdxacb1, up_tf],
                           series_colors, up_genes):
    fig.add_trace(go.Bar(x=idx, y=vals, name=name, marker=dict(color=col, line=bar_line),
                         width=0.46, xaxis="x2", yaxis="y2", showlegend=False))


def py(p):
    return 1 - p / FIG_H


plot_right = 1216.3 / FIG_W
x_range = [-0.5 + 1.7 / COL_W, n_cols - 0.5]
common_x = dict(range=x_range, domain=[0, plot_right], tickmode="array", tickvals=idx,
                ticktext=ages, tickangle=0, showgrid=False, zeroline=False, showline=False,
                ticks="", ticklabelstandoff=4, ticklabeloverflow="allow",
                tickfont=dict(family=NARROW, size=6.4, color="#3f3f3f", weight="bold"))
common_y = dict(range=[0, 10], dtick=1, tick0=0, showgrid=True, gridcolor="#e2e2e2", gridwidth=1,
                zeroline=True, zerolinecolor="#d9d9d9", zerolinewidth=1,
                showticklabels=False, ticks="", fixedrange=True)

layout_axes = dict(
    xaxis=dict(common_x, anchor="y"),
    yaxis=dict(common_y, domain=[py(687.3), py(582.3)], anchor="x"),
    xaxis2=dict(common_x, anchor="y2"),
    yaxis2=dict(common_y, domain=[py(869.3), py(766.7)], anchor="x2"),
    xaxis3=dict(domain=[0, 1], range=[0, FIG_W], visible=False, anchor="y3"),
    yaxis3=dict(domain=[py(TABLE_BOTTOM), 1], range=[TABLE_BOTTOM, 0], visible=False, anchor="x3"),
)

# chart area frames
frame = dict(color="#bfbfbf", width=1)
shapes.append(dict(type="rect", xref="paper", yref="paper", x0=-0.01, x1=1226 / FIG_W,
                   y0=py(706.7), y1=py(535), line=frame, layer="below"))
shapes.append(dict(type="rect", xref="paper", yref="paper", x0=-0.01, x1=1226 / FIG_W,
                   y0=py(895), y1=py(719), line=frame, layer="below"))


def legend_text(genes):
    parts = [f'<span style="color:{c}">■</span>{g}' for c, g in zip(series_colors, genes)]
    return "  ".join(parts)


title_font = dict(family=NARROW, size=11.2, color="#595959")
legend_font = dict(family=NARROW, size=6.8, color="#595959")
annotations = [
    dict(text="Downregulated genes", x=618 / FIG_W, y=py(548.3), xref="paper", yref="paper",
         showarrow=False, font=title_font, xanchor="center", yanchor="middle"),
    dict(text=legend_text(down_genes), x=603 / FIG_W, y=py(566.7), xref="paper", yref="paper",
         showarrow=False, font=legend_font, xanchor="center", yanchor="middle"),
    dict(text="Upregulated genes", x=618 / FIG_W, y=py(731), xref="paper", yref="paper",
         showarrow=False, font=title_font, xanchor="center", yanchor="middle"),
    dict(text=legend_text(up_genes), x=605 / FIG_W, y=py(749.5), xref="paper", yref="paper",
         showarrow=False, font=legend_font, xanchor="center", yanchor="middle"),
]

fig.update_layout(
    width=FIG_W, height=FIG_H, margin=dict(l=0, r=0, t=0, b=0),
    paper_bgcolor="white", plot_bgcolor="rgba(0,0,0,0)",
    barmode="stack", bargap=0.54, showlegend=False,
    shapes=shapes, annotations=annotations, **layout_axes,
)

fig.write_html("out.html")
